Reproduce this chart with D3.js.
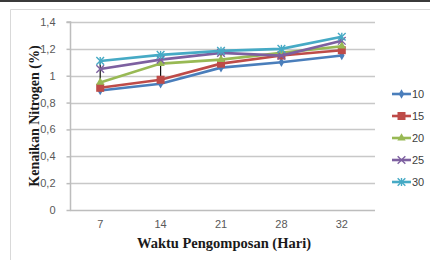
<!DOCTYPE html>
<html>
<head>
<meta charset="utf-8">
<script src="https://cdn.jsdelivr.net/npm/d3@7"></script>
<style>
  body { margin: 0; background: #fff; }
  svg { display: block; }
</style>
</head>
<body>
<div id="chart"></div>
<script>
// ---------- DATA ----------
const days = ['7', '14', '21', '28', '32'];
const yTicks = [0, 0.2, 0.4, 0.6, 0.8, 1, 1.2, 1.4];
const seriesNames = ['10', '15', '20', '25', '30'];
const s10 = [0.89, 0.94, 1.06, 1.10, 1.15];
const s15 = [0.91, 0.97, 1.09, 1.15, 1.19];
const s20 = [0.95, 1.09, 1.12, 1.17, 1.22];
const s25 = [1.05, 1.12, 1.17, 1.15, 1.26];
const s30 = [1.11, 1.155, 1.185, 1.20, 1.29];

const seriesValues = [s10, s15, s20, s25, s30];
const colors = ['#4a7ebb', '#be4b48', '#98b954', '#7d60a0', '#46aac5'];
const markers = ['diamond', 'square', 'triangle', 'cross', 'star'];

const W = 430, H = 260;
const margin = { left: 70, right: 58, top: 22, bottom: 50 };
const tickFont = '"Liberation Sans Narrow", "Liberation Sans", Arial, sans-serif';

const svg = d3.select('#chart').append('svg')
  .attr('width', W).attr('height', H);

// frame
svg.append('rect').attr('x', 0).attr('y', 0).attr('width', W).attr('height', 2).attr('fill', '#3a3a3a');
svg.append('path').attr('d', `M10.5,${H} V9.5 H${W}`)
  .attr('fill', 'none').attr('stroke', '#d9d9d9');

const x = d3.scaleBand().domain(days).range([margin.left, W - margin.right]);
const y = d3.scaleLinear().domain([0, 1.4]).range([H - margin.bottom, margin.top]);

// gridlines
svg.append('g').selectAll('line').data(yTicks.slice(1)).enter().append('line')
  .attr('x1', margin.left).attr('x2', W - margin.right + 3)
  .attr('y1', d => Math.round(y(d)) + 0.5).attr('y2', d => Math.round(y(d)) + 0.5)
  .attr('stroke', '#c8c8c8').attr('stroke-width', 1.5);

// y axis
const yAxis = svg.append('g')
  .attr('transform', `translate(${margin.left + 0.5},0)`)
  .call(d3.axisLeft(y).tickValues(yTicks).tickSize(4).tickPadding(11)
    .tickFormat(d => String(d).replace('.', ',')));
yAxis.selectAll('line, path').attr('stroke', '#bdbdbd').attr('stroke-width', 1.5);
yAxis.select('.domain').attr('d', `M-4,${y(1.4)}H0V${y(0)}`);
yAxis.selectAll('text').attr('fill', '#595959')
  .style('font-family', tickFont).style('font-size', '11px');

// x axis
const xAxis = svg.append('g')
  .attr('transform', `translate(0,${Math.round(y(0)) + 0.5})`)
  .call(d3.axisBottom(x).tickSize(0).tickPadding(10));
xAxis.select('.domain').attr('stroke', '#bdbdbd').attr('stroke-width', 1.5)
  .attr('d', `M${margin.left},0H${W - margin.right + 3}`);
xAxis.selectAll('text').attr('fill', '#595959')
  .style('font-family', tickFont).style('font-size', '11px');

// axis titles
svg.append('text')
  .attr('transform', `translate(39,${(y(0) + y(1.4)) / 2}) rotate(-90)`)
  .attr('text-anchor', 'middle')
  .style('font-family', '"Liberation Serif", "Times New Roman", serif')
  .style('font-weight', 'bold').style('font-size', '14px')
  .attr('fill', '#1a1a1a')
  .text('Kenaikan Nitrogen (%)');

svg.append('text')
  .attr('x', 224).attr('y', 248)
  .attr('text-anchor', 'middle')
  .style('font-family', '"Liberation Serif", "Times New Roman", serif')
  .style('font-weight', 'bold').style('font-size', '14.5px')
  .attr('fill', '#1a1a1a')
  .text('Waktu Pengomposan (Hari)');

const cx = d => x(d) + x.bandwidth() / 2;

// high-low lines
svg.append('g').selectAll('line').data(days).enter().append('line')
  .attr('x1', d => cx(d)).attr('x2', d => cx(d))
  .attr('y1', (d, i) => y(d3.max(seriesValues, s => s[i])))
  .attr('y2', (d, i) => y(d3.min(seriesValues, s => s[i])))
  .attr('stroke', '#111').attr('stroke-width', 1.2);

// lines
const line = d3.line().x((d, i) => cx(days[i])).y(d => y(d));

function drawMarker(g, type, color, px, py) {
  if (type === 'diamond') {
    g.append('path').attr('d', d3.symbol(d3.symbolDiamond, 26)())
      .attr('transform', `translate(${px},${py})`).attr('fill', color);
  } else if (type === 'square') {
    g.append('rect').attr('x', px - 4).attr('y', py - 4).attr('width', 8).attr('height', 8)
      .attr('fill', color);
  } else if (type === 'triangle') {
    g.append('path').attr('d', d3.symbol(d3.symbolTriangle, 30)())
      .attr('transform', `translate(${px},${py})`).attr('fill', color);
  } else if (type === 'cross') {
    g.append('path').attr('d', d3.symbol(d3.symbolX, 40)())
      .attr('transform', `translate(${px},${py})`)
      .attr('fill', 'none').attr('stroke', color).attr('stroke-width', 1.4);
  } else {
    g.append('path').attr('d', d3.symbol(d3.symbolX, 40)())
      .attr('transform', `translate(${px},${py})`)
      .attr('fill', 'none').attr('stroke', color).attr('stroke-width', 1.4);
    g.append('line').attr('x1', px).attr('x2', px).attr('y1', py - 4).attr('y2', py + 4)
      .attr('stroke', color).attr('stroke-width', 1.4);
  }
}

seriesValues.forEach((vals, k) => {
  const g = svg.append('g');
  g.append('path').datum(vals).attr('d', line)
    .attr('fill', 'none').attr('stroke', colors[k]).attr('stroke-width', 2.6);
  vals.forEach((v, i) => drawMarker(g, markers[k], colors[k], cx(days[i]), y(v)));
});

// legend
const legend = svg.append('g');
seriesNames.forEach((name, k) => {
  const ly = 94 + k * 22;
  const g = legend.append('g');
  g.append('line').attr('x1', 392).attr('x2', 411).attr('y1', ly).attr('y2', ly)
    .attr('stroke', colors[k]).attr('stroke-width', 2.6);
  drawMarker(g, markers[k], colors[k], 401.5, ly);
  g.append('text').attr('x', 412).attr('y', ly + 4)
    .style('font-family', tickFont).style('font-size', '11px')
    .attr('fill', '#404040').text(name);
});
</script>
</body>
</html>
